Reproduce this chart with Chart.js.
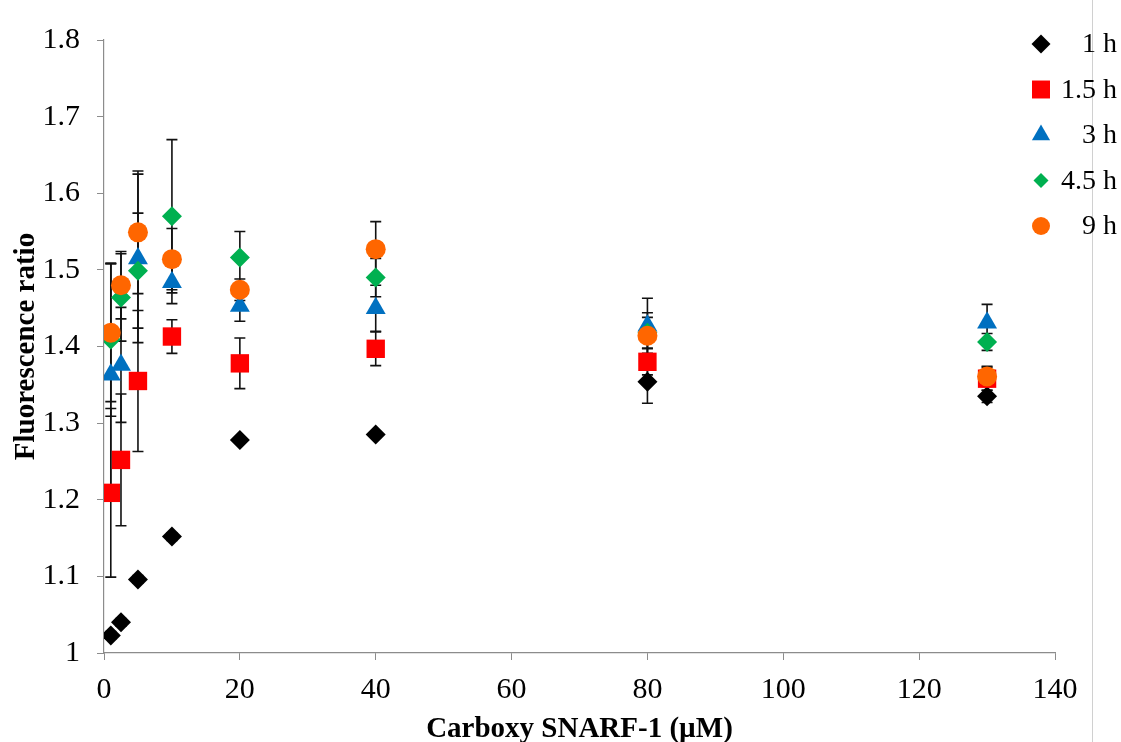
<!DOCTYPE html>
<html>
<head>
<meta charset="utf-8">
<script src="https://cdn.jsdelivr.net/npm/chart.js@4.4.1/dist/chart.umd.min.js"></script>
<style>
  html, body { margin: 0; padding: 0; background: #fff; }
  #wrap { width: 1121px; height: 742px; }
</style>
</head>
<body>
<div id="wrap"><canvas id="chart" width="1121" height="742"></canvas></div>
<script>
// concentrations (µM)
const xValues = [1, 2.5, 5, 10, 20, 40, 80, 130];
const seriesNames = ['1 h', '1.5 h', '3 h', '4.5 h', '9 h'];
const yTicks = ['1', '1.1', '1.2', '1.3', '1.4', '1.5', '1.6', '1.7', '1.8'];
const xTicks = ['0', '20', '40', '60', '80', '100', '120', '140'];

const vals1h  = [1.023, 1.040, 1.096, 1.152, 1.278, 1.285, 1.354, 1.335];
const vals15h = [1.209, 1.252, 1.355, 1.413, 1.378, 1.397, 1.380, 1.358];
const vals3h  = [1.363, 1.376, 1.515, 1.484, 1.453, 1.450, 1.427, 1.431];
const vals45h = [1.409, 1.464, 1.499, 1.570, 1.516, 1.490, 1.418, 1.406];
const vals9h  = [1.418, 1.480, 1.549, 1.514, 1.474, 1.527, 1.414, 1.361];

const err1h  = [0.005, 0.005, 0.005, 0.005, 0.004, 0.004, 0.028, 0.008];
const err15h = [0.110, 0.086, 0.092, 0.022, 0.033, 0.022, 0.017, 0.015];
const err3h  = [0.145, 0.075, 0.110, 0.028, 0.020, 0.030, 0.036, 0.024];
const err45h = [0.100, 0.057, 0.075, 0.100, 0.034, 0.025, 0.020, 0.011];
const err9h  = [0.090, 0.044, 0.080, 0.040, 0.014, 0.036, 0.030, 0.013];

const allVals = [vals1h, vals15h, vals3h, vals45h, vals9h];
const allErrs = [err1h, err15h, err3h, err45h, err9h];
const colors = ['#000000', '#FF0000', '#0070C0', '#00B050', '#FF6600'];
const styles = ['rectRot', 'rect', 'triangle', 'rectRot', 'circle'];
const radii = [10, 13, 11.5, 10, 10];
const legendRadii = [9.5, 12.7, 10.5, 7.5, 9];

const serif = "'Liberation Serif', 'Times New Roman', serif";

const datasets = seriesNames.map((name, i) => ({
    label: name,
    data: xValues.map((x, j) => ({x: x, y: allVals[i][j]})),
    errors: allErrs[i],
    backgroundColor: colors[i],
    borderColor: colors[i],
    borderWidth: 0,
    pointStyle: styles[i],
    pointRadius: radii[i],
    showLine: false,
    order: 5 - i
}));

const errorBars = {
    id: 'errorBars',
    beforeDatasetsDraw(chart) {
        const ctx = chart.ctx;
        const xs = chart.scales.x, ys = chart.scales.y;
        ctx.save();
        ctx.strokeStyle = '#111';
        ctx.lineWidth = 1.6;
        chart.data.datasets.forEach(ds => {
            ds.data.forEach((p, j) => {
                const e = ds.errors[j];
                const px = xs.getPixelForValue(p.x);
                const top = ys.getPixelForValue(p.y + e);
                const bot = ys.getPixelForValue(p.y - e);
                ctx.beginPath();
                ctx.moveTo(px, top); ctx.lineTo(px, bot);
                ctx.moveTo(px - 5.5, top); ctx.lineTo(px + 5.5, top);
                ctx.moveTo(px - 5.5, bot); ctx.lineTo(px + 5.5, bot);
                ctx.stroke();
            });
        });
        ctx.restore();
    }
};

const sideLegend = {
    id: 'sideLegend',
    beforeDraw(chart) {
        const ctx = chart.ctx;
        ctx.save();
        ctx.strokeStyle = '#d0d0d0';
        ctx.lineWidth = 1;
        ctx.beginPath();
        ctx.moveTo(1092.5, 0); ctx.lineTo(1092.5, 742);
        ctx.stroke();
        ctx.restore();
    },
    afterDraw(chart) {
        const ctx = chart.ctx;
        ctx.save();
        ctx.font = '28px ' + serif;
        ctx.textAlign = 'right';
        ctx.textBaseline = 'middle';
        chart.data.datasets.forEach((ds, i) => {
            const y = 44 + i * 45.5;
            ctx.fillStyle = ds.backgroundColor;
            Chart.helpers.drawPoint(ctx, {pointStyle: ds.pointStyle, radius: legendRadii[i], rotation: 0, borderWidth: 0}, 1041, y);
            ctx.fillStyle = '#000';
            ctx.fillText(ds.label, 1117, y + 1);
        });
        ctx.restore();
    }
};

const canvas = document.getElementById('chart');
const config = {
    type: 'scatter',
    data: { datasets: datasets },
    options: {
        responsive: false,
        animation: false,
        layout: { padding: { left: 0, top: 40, right: 66, bottom: 0 } },
        plugins: { legend: { display: false }, tooltip: { enabled: false } },
        scales: {
            x: {
                type: 'linear', min: 0, max: 140,
                afterFit: s => { s.height = 89; },
                ticks: {
                    stepSize: 20, color: '#000', padding: 12,
                    font: { family: serif, size: 30 },
                    maxRotation: 0,
                    callback: (v, i) => xTicks[i]
                },
                grid: { drawOnChartArea: false, drawTicks: true, tickLength: 7, color: '#8c8c8c' },
                border: { color: '#8c8c8c', width: 1.2 },
                title: {
                    display: true, text: 'Carboxy SNARF-1 (µM)', color: '#000',
                    font: { family: serif, size: 29, weight: 'bold' },
                    padding: { top: 0, bottom: -5 }
                }
            },
            y: {
                type: 'linear', min: 1, max: 1.8,
                afterFit: s => { s.width = 104; },
                ticks: {
                    stepSize: 0.1, color: '#000', padding: 17,
                    font: { family: serif, size: 30 },
                    callback: (v, i) => yTicks[i]
                },
                grid: { drawOnChartArea: false, drawTicks: true, tickLength: 7, color: '#8c8c8c' },
                border: { color: '#8c8c8c', width: 1.2 },
                title: {
                    display: true, text: 'Fluorescence ratio', color: '#000',
                    font: { family: serif, size: 29, weight: 'bold' },
                    padding: { top: 9, bottom: 0 }
                }
            }
        }
    },
    plugins: [errorBars, sideLegend]
};
let chart = new Chart(canvas, config);
</script>
</body>
</html>
